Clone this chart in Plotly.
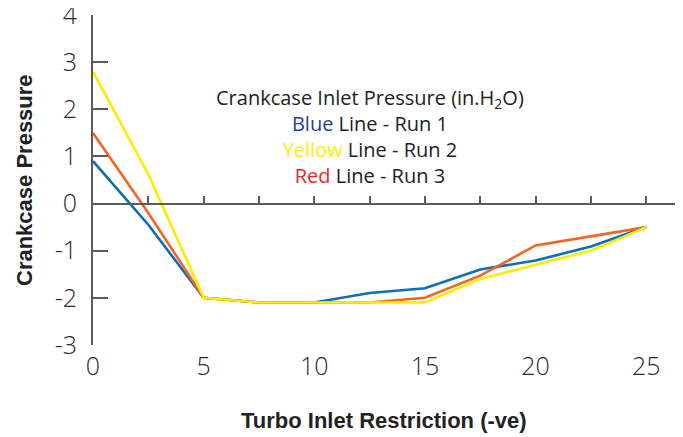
import plotly.graph_objects as go

x_vals = [0, 2.5, 5, 7.5, 10, 12.5, 15, 17.5, 20, 22.5, 25]
run1_blue = [0.9, -0.45, -2.0, -2.1, -2.1, -1.9, -1.8, -1.4, -1.21, -0.91, -0.5]
run2_yellow = [2.8, 0.62, -2.0, -2.1, -2.1, -2.1, -2.1, -1.6, -1.3, -1.0, -0.5]
run3_red = [1.5, -0.2, -2.0, -2.1, -2.1, -2.1, -2.0, -1.53, -0.89, -0.7, -0.5]

y_ticks = [-3, -2, -1, 0, 1, 2, 3, 4]
y_tick_text = ["-3", "-2", "-1", "0", "1", "2", "3", "4"]
x_ticks = [0, 5, 10, 15, 20, 25]
x_tick_text = ["0", "5", "10", "15", "20", "25"]
y_range = [-3.003, 4.003]
x_range = [0, 26.3]

fig = go.Figure()
fig.add_trace(go.Scatter(x=x_vals, y=run1_blue, mode="lines",
                         line=dict(color="#0a6fb8", width=2.6), showlegend=False))
fig.add_trace(go.Scatter(x=x_vals, y=run3_red, mode="lines",
                         line=dict(color="#f26522", width=2.6), showlegend=False))
fig.add_trace(go.Scatter(x=x_vals, y=run2_yellow, mode="lines",
                         line=dict(color="#ffec00", width=2.6), showlegend=False))
# invisible trace to carry the zero-line axis
fig.add_trace(go.Scatter(x=[x_range[0]], y=[0], xaxis="x2", mode="markers",
                         marker=dict(opacity=0), showlegend=False, hoverinfo="skip"))

axis_col = "#5a5a5a"
tick_font = dict(family="Open Sans, Noto Sans, sans-serif", size=25, color="#2a2a2a", weight=300)
title_font = dict(family="Liberation Sans, Arial, sans-serif", size=22, color="#222222")

# page body has an 8px default margin, so the figure is sized to fit the window
fig.update_layout(
    width=675, height=429,
    margin=dict(l=85, r=8, t=7, b=92),
    paper_bgcolor="white", plot_bgcolor="white",
    xaxis=dict(range=x_range, tickvals=x_ticks, ticktext=x_tick_text, showline=False,
               showgrid=False, zeroline=False, ticks="", tickfont=tick_font,
               ticklabelstandoff=4, automargin=False, ticklabeloverflow="allow"),
    xaxis2=dict(range=x_range, overlaying="x", matches="x", anchor="free",
                position=(0 - y_range[0]) / (y_range[1] - y_range[0]),
                showline=True, linecolor=axis_col, linewidth=2, showgrid=False,
                zeroline=False, ticks="inside", ticklen=7, tickwidth=1.5, tickcolor=axis_col,
                tick0=0, dtick=2.5, showticklabels=False, automargin=False),
    yaxis=dict(range=y_range, tickvals=y_ticks, ticktext=y_tick_text, showline=True,
               linecolor=axis_col, linewidth=2, showgrid=False, zeroline=False,
               ticks="inside", ticklen=15, tickwidth=1.5, tickcolor=axis_col,
               tickfont=tick_font, ticklabelstandoff=9, automargin=False,
               ticklabeloverflow="allow"),
)

fig.add_annotation(text="<b>Turbo Inlet Restriction (-ve)</b>", xref="paper", yref="paper",
                   x=0.5, y=0, yshift=-75, showarrow=False, font=title_font,
                   xanchor="center", yanchor="middle")
fig.add_annotation(text="<b>Crankcase Pressure</b>", xref="paper", yref="paper",
                   x=0, y=0.5, xshift=-69, textangle=-90, showarrow=False, font=title_font,
                   xanchor="center", yanchor="middle")

ann_font = dict(family="Open Sans, Noto Sans, sans-serif", size=20, color="#222222")
lines = [
    "Crankcase Inlet Pressure (in.H<sub>2</sub>O)",
    "<span style='color:#2b3f94'>Blue</span> Line - Run 1",
    "<span style='color:#ffec00'>Yellow</span> Line - Run 2",
    "<span style='color:#e32b2b'>Red</span> Line - Run 3",
]
fig.add_annotation(x=12.5, y=1.42, xref="x", yref="y", text="<br>".join(lines),
                   showarrow=False, font=ann_font, xanchor="center", yanchor="middle",
                   align="center")

fig.write_html("out.html")
